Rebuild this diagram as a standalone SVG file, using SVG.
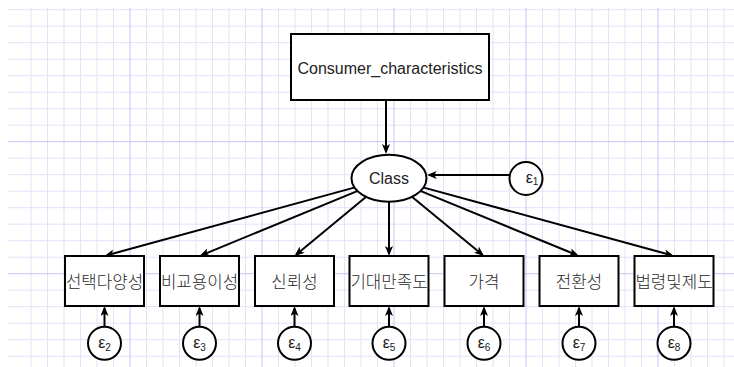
<svg xmlns="http://www.w3.org/2000/svg" width="734" height="367" viewBox="0 0 734 367">
<style>
.minor{stroke:#e2e2fa;stroke-width:1}
.major{stroke:#c6c6f6;stroke-width:1}
.shape{fill:#ffffff;stroke:#000000;stroke-width:2}
.edge{stroke:#000000;stroke-width:2;fill:none;marker-end:url(#arr)}
.lbl{font-family:"Liberation Sans",Arial,sans-serif;font-size:16px;fill:#222222;text-anchor:middle}
.kr{font-family:"Noto Sans CJK KR","Noto Sans",sans-serif;font-size:16.8px;font-weight:300;fill:#2a2a2a;text-anchor:middle}
.eps{font-family:"Liberation Sans",Arial,sans-serif;font-size:16px;fill:#222222;text-anchor:middle}
.sub{font-size:10px}
</style>
<defs>
<marker id="arr" viewBox="0 0 10 8" refX="7.5" refY="4" markerWidth="10" markerHeight="8" markerUnits="userSpaceOnUse" orient="auto">
<path d="M0,0 L10,4 L0,8 L2.5,4 z" fill="#000000"/>
</marker>
</defs>
<rect x="0" y="0" width="734" height="367" fill="#ffffff"/>
<g id="grid">
<path class="minor" d="M8,9.7H734M8,26.2H734M8,42.7H734M8,59.2H734M8,75.7H734M8,92.2H734M8,108.7H734M8,125.2H734M8,158.2H734M8,174.7H734M8,191.2H734M8,207.7H734M8,224.2H734M8,240.7H734M8,257.2H734M8,290.2H734M8,306.7H734M8,323.2H734M8,339.7H734M8,356.2H734"/>
<path class="minor" d="M31,8V367M47.5,8V367M64,8V367M80.5,8V367M97,8V367M113.5,8V367M146.5,8V367M163,8V367M179.5,8V367M196,8V367M212.5,8V367M229,8V367M245.5,8V367M278.5,8V367M295,8V367M311.5,8V367M328,8V367M344.5,8V367M361,8V367M377.5,8V367M410.5,8V367M427,8V367M443.5,8V367M460,8V367M476.5,8V367M493,8V367M509.5,8V367M542.5,8V367M559,8V367M575.5,8V367M592,8V367M608.5,8V367M625,8V367M641.5,8V367M674.5,8V367M691,8V367M707.5,8V367M724,8V367"/>
<path class="major" d="M8,141.7H734M8,273.7H734M130,8V367M262,8V367M394,8V367M526,8V367M658,8V367"/>
</g>
<g id="connectors">
<line class="edge" x1="386" y1="100" x2="386" y2="151.5"/>
<line class="edge" x1="509.5" y1="175" x2="429.2" y2="175"/>
<line class="edge" x1="354.1" y1="187.6" x2="106.9" y2="255.3"/>
<line class="edge" x1="357.2" y1="191.1" x2="201.8" y2="255.05"/>
<line class="edge" x1="365.9" y1="197.1" x2="296.4" y2="254.4"/>
<line class="edge" x1="389" y1="202" x2="389" y2="253.5"/>
<line class="edge" x1="412.2" y1="197" x2="482.1" y2="254.4"/>
<line class="edge" x1="420.9" y1="191.1" x2="576.7" y2="255.05"/>
<line class="edge" x1="423.9" y1="187.6" x2="671.6" y2="255.3"/>
<line class="edge" x1="104.5" y1="326.8" x2="104.5" y2="308.5"/>
<line class="edge" x1="199.5" y1="326.8" x2="199.5" y2="308.5"/>
<line class="edge" x1="294.5" y1="326.8" x2="294.5" y2="308.5"/>
<line class="edge" x1="389" y1="326.8" x2="389" y2="308.5"/>
<line class="edge" x1="484" y1="326.8" x2="484" y2="308.5"/>
<line class="edge" x1="579" y1="326.8" x2="579" y2="308.5"/>
<line class="edge" x1="674" y1="326.8" x2="674" y2="308.5"/>
</g>
<g id="consumer">
<rect class="shape" x="291" y="34" width="198" height="66"/>
<text class="lbl" x="390" y="73.5">Consumer_characteristics</text>
</g>
<g id="class">
<ellipse class="shape" cx="389" cy="178.3" rx="37.5" ry="23.5"/>
<text class="lbl" x="389" y="184">Class</text>
</g>
<g id="e1">
<circle class="shape" cx="526" cy="178.5" r="16.5"/>
<text class="eps" x="532" y="182.5">ε<tspan class="sub" dy="2.5">1</tspan></text>
</g>
<g id="v1">
<rect class="shape" x="65" y="256" width="79" height="50"/>
<text class="kr" x="104.5" y="287.5">선택다양성</text>
</g>
<g id="v2">
<rect class="shape" x="160" y="256" width="79" height="50"/>
<text class="kr" x="199.5" y="287.5">비교용이성</text>
</g>
<g id="v3">
<rect class="shape" x="255" y="256" width="79" height="50"/>
<text class="kr" x="294.5" y="287.5">신뢰성</text>
</g>
<g id="v4">
<rect class="shape" x="349.5" y="256" width="79" height="50"/>
<text class="kr" x="389" y="287.5">기대만족도</text>
</g>
<g id="v5">
<rect class="shape" x="444.5" y="256" width="79" height="50"/>
<text class="kr" x="484" y="287.5">가격</text>
</g>
<g id="v6">
<rect class="shape" x="539.5" y="256" width="79" height="50"/>
<text class="kr" x="579" y="287.5">전환성</text>
</g>
<g id="v7">
<rect class="shape" x="634.5" y="256" width="79" height="50"/>
<text class="kr" x="674" y="287.5">법령및제도</text>
</g>
<g id="e2">
<circle class="shape" cx="104.5" cy="343.3" r="16.5"/>
<text class="eps" x="104.5" y="348">ε<tspan class="sub" dy="2.5">2</tspan></text>
</g>
<g id="e3">
<circle class="shape" cx="199.5" cy="343.3" r="16.5"/>
<text class="eps" x="199.5" y="348">ε<tspan class="sub" dy="2.5">3</tspan></text>
</g>
<g id="e4">
<circle class="shape" cx="294.5" cy="343.3" r="16.5"/>
<text class="eps" x="294.5" y="348">ε<tspan class="sub" dy="2.5">4</tspan></text>
</g>
<g id="e5">
<circle class="shape" cx="389" cy="343.3" r="16.5"/>
<text class="eps" x="389" y="348">ε<tspan class="sub" dy="2.5">5</tspan></text>
</g>
<g id="e6">
<circle class="shape" cx="484" cy="343.3" r="16.5"/>
<text class="eps" x="484" y="348">ε<tspan class="sub" dy="2.5">6</tspan></text>
</g>
<g id="e7">
<circle class="shape" cx="579" cy="343.3" r="16.5"/>
<text class="eps" x="579" y="348">ε<tspan class="sub" dy="2.5">7</tspan></text>
</g>
<g id="e8">
<circle class="shape" cx="674" cy="343.3" r="16.5"/>
<text class="eps" x="674" y="348">ε<tspan class="sub" dy="2.5">8</tspan></text>
</g>
</svg>
